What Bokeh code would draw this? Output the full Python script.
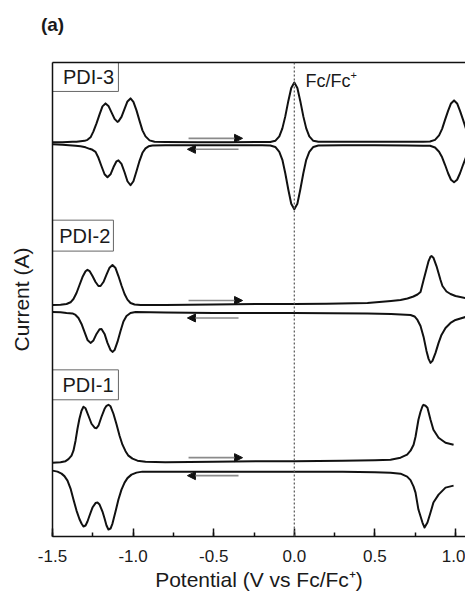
from bokeh.plotting import figure
from bokeh.models import (Range1d, LinearAxis, FixedTicker, SingleIntervalTicker,
                          NumeralTickFormatter, Span, Arrow, NormalHead, Label)
from bokeh.embed import file_html
from bokeh.resources import INLINE

# ---------------- data (potential in V vs Fc/Fc+, current in arbitrary offset units) ----------
# PDI-3 forward scan (upper branch)
x3_fwd = [-1.500, -1.438, -1.376, -1.351, -1.326, -1.301, -1.283, -1.264, -1.246, -1.227,
          -1.208, -1.190, -1.171, -1.153, -1.134, -1.115, -1.097, -1.091, -1.072, -1.053,
          -1.035, -1.016, -0.998, -0.979, -0.960, -0.942, -0.923, -0.898, -0.867, -0.800,
          -0.600, -0.400, -0.200, -0.149, -0.118, -0.093, -0.074, -0.056, -0.037, -0.019,
          0.000, 0.019, 0.037, 0.056, 0.074, 0.093, 0.118, 0.149, 0.300, 0.500,
          0.700, 0.800, 0.842, 0.873, 0.898, 0.917, 0.935, 0.954, 0.972, 0.991,
          1.010, 1.028, 1.047, 1.065, 1.084, 1.109, 1.140]
y3_fwd = [395, 395, 395.5, 395.5, 396, 396.5, 397.5, 400, 406, 414,
          423, 431, 434, 431.5, 425, 418.5, 415.5, 416, 420.5, 428.5,
          436, 439, 435.5, 427, 416.5, 407, 401, 397, 395.5, 395.3,
          395.2, 395.2, 395.3, 395.3, 396.5, 401, 409, 421, 436.5, 449.5,
          455, 449.5, 436.5, 421, 409, 401, 396.5, 395.5, 395.5, 395.5,
          395.6, 395.6, 395.8, 397.5, 402, 408.5, 417.5, 426.5, 434, 437,
          434, 426.5, 417.5, 408.5, 402, 397.5, 395.5]
# PDI-3 reverse scan (lower branch)
x3_rev = [-1.500, -1.438, -1.357, -1.326, -1.295, -1.270, -1.252, -1.233, -1.215, -1.196,
          -1.177, -1.159, -1.140, -1.122, -1.103, -1.091, -1.072, -1.053, -1.035, -1.016,
          -0.998, -0.979, -0.960, -0.942, -0.923, -0.904, -0.880, -0.800, -0.600, -0.400,
          -0.200, -0.149, -0.118, -0.093, -0.074, -0.056, -0.037, -0.019, 0.000, 0.019,
          0.037, 0.056, 0.074, 0.093, 0.118, 0.149, 0.300, 0.500, 0.700, 0.800,
          0.842, 0.873, 0.898, 0.917, 0.935, 0.954, 0.972, 0.991, 1.010, 1.028,
          1.047, 1.065, 1.084, 1.109, 1.140]
y3_rev = [393, 392.5, 391.5, 391, 390, 388.5, 387.5, 385.5, 379.5, 371,
          363, 360, 363, 370, 376, 377, 373.5, 365, 356, 352,
          356, 366, 376.5, 384.5, 389, 391, 391.8, 392, 392, 392,
          392, 391.8, 390.4, 385.5, 377.5, 364, 347.5, 333.5, 328, 333.5,
          347.5, 364, 377.5, 385.5, 390.4, 391.8, 392, 392, 391.8, 391.6,
          391.6, 389.8, 385.6, 380, 372.5, 364, 357.5, 355, 357.5, 364,
          372.5, 380, 385.6, 389.8, 391.6]

# PDI-2 forward scan
x2_fwd = [-1.500, -1.450, -1.413, -1.388, -1.370, -1.351, -1.333, -1.314, -1.295, -1.283,
          -1.270, -1.252, -1.233, -1.215, -1.202, -1.184, -1.165, -1.146, -1.128, -1.109,
          -1.091, -1.072, -1.053, -1.035, -1.016, -0.991, -0.954, -0.800, -0.500, -0.200,
          0.000, 0.200, 0.454, 0.600, 0.659, 0.702, 0.739, 0.764, 0.783, 0.802,
          0.820, 0.833, 0.845, 0.851, 0.864, 0.882, 0.907, 0.919, 0.944, 0.969,
          1.000, 1.062, 1.124]
y2_fwd = [232, 232.3, 233, 234.7, 238, 244, 251.8, 260, 265.8, 267.2,
          266, 261, 255, 251, 251, 255, 262.4, 269.4, 272, 269,
          261, 251.5, 243, 237.4, 234, 232.5, 232, 232, 232.5, 233,
          233, 233.3, 234, 236, 237, 238.5, 240.5, 242.5, 245, 257,
          268, 276, 280.5, 281, 279, 271, 257, 251, 245.5, 243,
          241, 239, 238]
# PDI-2 reverse scan
x2_rev = [-1.500, -1.450, -1.413, -1.376, -1.357, -1.339, -1.320, -1.301, -1.283, -1.264,
          -1.246, -1.227, -1.208, -1.196, -1.177, -1.159, -1.140, -1.128, -1.115, -1.097,
          -1.078, -1.060, -1.041, -1.016, -0.985, -0.800, -0.500, 0.000, 0.454, 0.600,
          0.721, 0.746, 0.764, 0.783, 0.802, 0.820, 0.833, 0.845, 0.857, 0.876,
          0.895, 0.913, 0.938, 0.969, 1.000, 1.062, 1.124]
y2_rev = [225, 224.8, 224, 223.5, 222, 219, 213, 204.8, 197, 194,
          196.5, 203, 207.7, 208, 203, 194, 186.8, 185, 186.8, 195,
          206, 215.4, 221, 224, 225, 224.5, 224, 224, 223.5, 223,
          222, 220.5, 217, 211, 200, 186, 178, 174, 176, 184,
          194, 202, 209, 214, 217, 220, 221.5]

# PDI-1 forward scan
x1_fwd = [-1.500, -1.450, -1.419, -1.401, -1.382, -1.370, -1.357, -1.345, -1.333, -1.320,
          -1.308, -1.295, -1.277, -1.258, -1.239, -1.227, -1.215, -1.196, -1.177, -1.165,
          -1.153, -1.140, -1.122, -1.103, -1.084, -1.066, -1.047, -1.029, -1.004, -0.973,
          -0.923, -0.800, -0.500, -0.200, 0.000, 0.300, 0.500, 0.597, 0.659, 0.700,
          0.721, 0.740, 0.752, 0.770, 0.783, 0.795, 0.801, 0.814, 0.826, 0.845,
          0.863, 0.895, 0.938, 0.988]
y1_fwd = [74, 74.5, 75.5, 77.5, 81, 86, 96, 108, 118, 126,
          130, 128.5, 121, 113, 109, 108.5, 111, 120, 128, 131,
          132, 130.5, 123, 112.5, 101, 92, 85.5, 81, 78, 76,
          74.8, 74.5, 75, 75.5, 75.5, 76, 76.5, 77, 79, 82,
          86, 92, 100, 117, 125, 130.5, 132, 131, 129, 117,
          107, 99, 94, 92]
# PDI-1 reverse scan
x1_rev = [-1.500, -1.469, -1.444, -1.426, -1.407, -1.388, -1.370, -1.351, -1.333, -1.320,
          -1.308, -1.295, -1.283, -1.270, -1.252, -1.233, -1.221, -1.208, -1.190, -1.177,
          -1.165, -1.153, -1.140, -1.128, -1.109, -1.091, -1.072, -1.053, -1.035, -1.010,
          -0.979, -0.942, -0.800, -0.500, 0.000, 0.300, 0.500, 0.597, 0.659, 0.700,
          0.721, 0.740, 0.752, 0.770, 0.795, 0.808, 0.826, 0.845, 0.863, 0.895,
          0.938, 0.988]
y1_rev = [66, 65, 63, 60.5, 56, 48, 37, 26, 17.5, 13,
          10, 11, 15, 21, 29, 33.5, 34, 32, 25, 18,
          11, 7, 8, 13, 25, 37, 47, 54, 58.5, 62,
          64, 65, 65, 65, 65, 65, 64.5, 64, 63, 60,
          56.5, 50, 44, 27, 14, 9, 14, 24, 34, 42,
          49, 51]

series = [(x3_fwd, y3_fwd), (x3_rev, y3_rev), (x2_fwd, y2_fwd), (x2_rev, y2_rev),
          (x1_fwd, y1_fwd), (x1_rev, y1_rev)]

x_ticks_interval = 0.5
sample_names = ["PDI-3", "PDI-2", "PDI-1"]

FONT = "Liberation Sans"
TXT = "#1a1a1a"

# ---------------- figure ----------------
p = figure(width=465, height=593, output_backend="svg", toolbar_location=None,
           x_range=Range1d(-1.5, 1.062), y_range=Range1d(0, 475),
           min_border_left=52, min_border_right=0, min_border_top=62, min_border_bottom=56,
           title=None)
p.outline_line_color = None
p.grid.visible = False
p.background_fill_color = "white"
p.border_fill_color = "white"

# bottom axis
xa = p.xaxis[0]
xa.ticker = SingleIntervalTicker(interval=x_ticks_interval, num_minor_ticks=2)
xa.formatter = NumeralTickFormatter(format="0.0")
xa.major_tick_in = 8
xa.major_tick_out = 0
xa.minor_tick_in = 4
xa.minor_tick_out = 0
xa.axis_line_width = 1.5
xa.major_tick_line_width = 1.5
xa.minor_tick_line_width = 1.5
xa.axis_line_color = "#111111"
xa.major_tick_line_color = "#111111"
xa.minor_tick_line_color = "#111111"
xa.major_label_text_font = FONT
xa.major_label_text_font_size = "17px"
xa.major_label_text_color = TXT
xa.major_label_standoff = 13
xa.axis_label = "Potential (V vs Fc/Fc\u207a)"
xa.axis_label_text_font = FONT
xa.axis_label_text_font_size = "21px"
xa.axis_label_text_font_style = "normal"
xa.axis_label_text_color = TXT
xa.axis_label_standoff = 3

# left axis (no ticks)
ya = p.yaxis[0]
ya.ticker = FixedTicker(ticks=[])
ya.major_label_text_font_size = "0px"
ya.major_tick_out = 0
ya.minor_tick_out = 0
ya.major_tick_line_color = None
ya.minor_tick_line_color = None
ya.major_label_standoff = 0
ya.axis_line_width = 1.5
ya.axis_line_color = "#111111"
ya.axis_label = "Current (A)"
ya.axis_label_text_font = FONT
ya.axis_label_text_font_size = "21px"
ya.axis_label_text_font_style = "normal"
ya.axis_label_text_color = TXT
ya.axis_label_standoff = 20

# top frame line, carrying the panel tag "(a)" as its label
top = LinearAxis(ticker=FixedTicker(ticks=[]), major_label_text_font_size="0px",
                 major_tick_out=0, minor_tick_out=0, major_tick_line_color=None,
                 minor_tick_line_color=None, major_label_standoff=0,
                 axis_line_width=1.5, axis_line_color="#111111",
                 axis_label="(a)", axis_label_align="start",
                 axis_label_text_align="left",
                 axis_label_text_font=FONT, axis_label_text_font_size="19px",
                 axis_label_text_font_style="bold", axis_label_text_color=TXT,
                 axis_label_standoff=28)
p.add_layout(top, "above")

# Fc/Fc+ reference line
p.add_layout(Span(location=0.0, dimension="height", line_color="#555555",
                  line_dash="2 2", line_width=1.2))

# CV curves
for xs, ys in series:
    p.line(xs, ys, line_color="#111111", line_width=2, line_join="round")

# scan direction arrows
arrow_fwd_x = (-0.656, -0.321)
arrow_rev_x = (-0.346, -0.663)
arrow_fwd_y = [399, 236.5, 79]
arrow_rev_y = [388, 219, 61]
for yf, yr in zip(arrow_fwd_y, arrow_rev_y):
    p.add_layout(Arrow(end=NormalHead(size=8, fill_color="#111111", line_color="#111111"),
                       x_start=arrow_fwd_x[0], y_start=yf, x_end=arrow_fwd_x[1], y_end=yf,
                       line_color="#8a8a8a", line_width=1.6))
    p.add_layout(Arrow(end=NormalHead(size=8, fill_color="#111111", line_color="#111111"),
                       x_start=arrow_rev_x[0], y_start=yr, x_end=arrow_rev_x[1], y_end=yr,
                       line_color="#8a8a8a", line_width=1.6))

# sample label boxes
box_left = [-1.5, -1.5, -1.5]
box_right = [-1.091, -1.122, -1.091]
box_top = [475, 317, 167]
box_bottom = [446, 286, 137]
p.quad(left=box_left, right=box_right, top=box_top, bottom=box_bottom,
       fill_color="white", line_color="#666666", line_width=1)
label_x = [-1.277, -1.300, -1.280]
label_y = [460.5, 301.5, 152]
for name, lx, ly in zip(sample_names, label_x, label_y):
    p.add_layout(Label(x=lx, y=ly, text=name, text_align="center", text_baseline="middle",
                       text_font=FONT, text_font_size="20px", text_color=TXT))

# Fc/Fc+ annotation
p.add_layout(Label(x=0.069, y=456, text="Fc/Fc", text_align="left", text_baseline="middle",
                   text_font=FONT, text_font_size="18px", text_color=TXT))
p.add_layout(Label(x=0.349, y=462, text="+", text_align="left", text_baseline="middle",
                   text_font=FONT, text_font_size="11px", text_color=TXT))

open("out.html", "w").write(file_html(p, INLINE))
